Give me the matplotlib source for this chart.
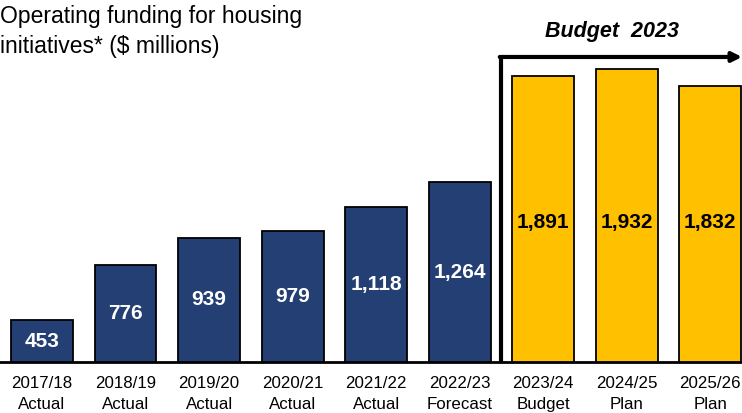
import matplotlib.pyplot as plt

plt.rcParams['font.family'] = ['Liberation Sans', 'DejaVu Sans']

years = ['2017/18', '2018/19', '2019/20', '2020/21', '2021/22', '2022/23',
         '2023/24', '2024/25', '2025/26']
kinds = ['Actual', 'Actual', 'Actual', 'Actual', 'Actual', 'Forecast',
         'Budget', 'Plan', 'Plan']
values = [453, 776, 939, 979, 1118, 1264, 1891, 1932, 1832]
is_budget = [False] * 6 + [True] * 3

navy = '#243F73'
gold = '#FFC000'

fig = plt.figure(figsize=(7.42, 4.13), dpi=100)
ax = fig.add_axes([0, 51 / 413, 1, 362 / 413])

x = list(range(len(values)))
colors = [gold if b else navy for b in is_budget]
ax.bar(x, values, width=0.74, color=colors, edgecolor='black', linewidth=1.3,
       zorder=2)

ymin, ymax = 206, 2339
ax.set_xlim(-0.503, 8.38)
ax.set_ylim(ymin, ymax)

for xi, v, b in zip(x, values, is_budget):
    # budget labels share one level; the others sit mid-bar
    ly = 1030 if b else (v + ymin) / 2
    ax.text(xi, ly, f'{v:,}', ha='center', va='center',
            fontsize=15, fontweight='bold', color='black' if b else 'white',
            zorder=3)

ax.set_xticks(x)
ax.set_xticklabels([f'{y}\n{k}' for y, k in zip(years, kinds)], fontsize=12.2,
                   linespacing=1.5)
ax.tick_params(axis='x', length=0, pad=10)
ax.set_yticks([])
for s in ['top', 'right', 'left']:
    ax.spines[s].set_visible(False)
ax.spines['bottom'].set_linewidth(2)

# budget bracket with arrow
bx = 5.5
top = ymin + (362 - 57) / 0.1697
ax.plot([bx, bx], [ymin, top], color='black', lw=3, clip_on=False,
        solid_capstyle='butt', zorder=4)
ax.annotate('', xy=(8.38, top), xytext=(bx - 0.02, top),
            arrowprops=dict(arrowstyle='-|>', color='black', lw=3,
                            mutation_scale=14, shrinkA=0, shrinkB=0),
            annotation_clip=False)

fig.text(612 / 742, 1 - 31 / 413, 'Budget  2023', ha='center', va='center',
         fontsize=15.5, fontweight='bold', style='italic')
fig.text(0, 1 - 5 / 413, 'Operating funding for housing\ninitiatives* ($ millions)',
         ha='left', va='top', fontsize=16.5, linespacing=1.4)

fig.savefig('out.png', dpi=100)
